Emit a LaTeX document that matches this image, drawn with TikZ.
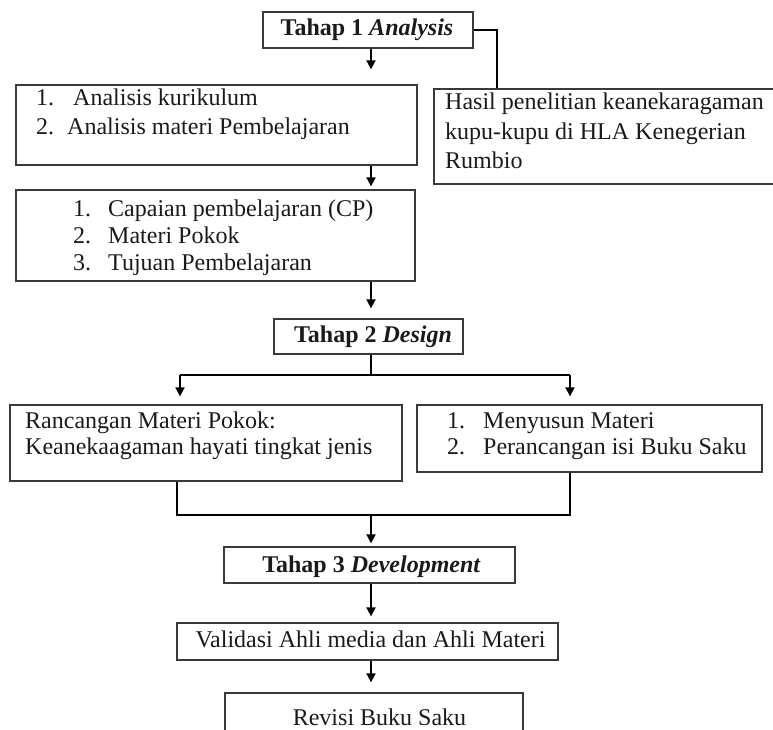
\documentclass[tikz,border=0pt]{standalone}
\usepackage{fontspec}
\setmainfont{Liberation Serif}
\usetikzlibrary{arrows.meta}
\definecolor{boxgray}{HTML}{3A3A3A}
\definecolor{txtcol}{HTML}{1A1A1A}
\begin{document}
\begin{tikzpicture}[x=1pt,y=-1pt,
  box/.style={draw=boxgray, line width=1.3pt, inner sep=0pt},
  lbl/.style={inner sep=0pt, text=txtcol, font=\fontsize{24}{28}\selectfont, anchor=base west},
  clbl/.style={inner sep=0pt, text=txtcol, font=\fontsize{24}{28}\selectfont, anchor=base},
  conn/.style={line width=1.8pt, draw=black},
  arr/.style={conn, -{Triangle[width=9pt,length=9pt]}}]
\useasboundingbox (0,0) rectangle (773,730);
% boxes
\node[box, minimum width=210pt, minimum height=36pt] (t1) at (368,30) {};
\node[box, minimum width=401pt, minimum height=80pt] (a1) at (216.5,125) {};
\node[box, minimum width=346pt, minimum height=95pt] (hasil) at (607,136.5) {};
\node[box, minimum width=399pt, minimum height=91pt] (a2) at (215.5,235.5) {};
\node[box, minimum width=189pt, minimum height=35pt] (t2) at (368.5,336.5) {};
\node[box, minimum width=392pt, minimum height=76pt] (dL) at (206,443) {};
\node[box, minimum width=345pt, minimum height=67pt] (dR) at (589.5,438.5) {};
\node[box, minimum width=291pt, minimum height=36pt] (t3) at (369.5,565) {};
\node[box, minimum width=381pt, minimum height=37pt] (val) at (367.5,641.5) {};
\node[box, minimum width=298pt, minimum height=52pt] (rev) at (374,719) {};
% texts
\node[clbl] (t1txt) at (367,36) {\textbf{Tahap 1 \textit{Analysis}}};
\node[lbl] (a1n1) at (36,106) {1.};
\node[lbl] (a1t1) at (73,106) {Analisis kurikulum};
\node[lbl] (a1n2) at (36,135) {2.};
\node[lbl] (a1t2) at (67,135) {Analisis materi Pembelajaran};
\node[lbl] (h1) at (445,110) {Hasil penelitian keanekaragaman};
\node[lbl] (h2) at (445,140) {kupu-kupu di HLA Kenegerian};
\node[lbl] (h3) at (445,168) {Rumbio};
\node[lbl] (a2n1) at (73,216) {1.};
\node[lbl] (a2t1) at (108,216) {Capaian pembelajaran (CP)};
\node[lbl] (a2n2) at (73,243) {2.};
\node[lbl] (a2t2) at (108,243) {Materi Pokok};
\node[lbl] (a2n3) at (73,270) {3.};
\node[lbl] (a2t3) at (108,270) {Tujuan Pembelajaran};
\node[clbl] (t2txt) at (373,342) {\textbf{Tahap 2 \textit{Design}}};
\node[lbl] (dL1) at (25,428) {Rancangan Materi Pokok:};
\node[lbl] (dL2) at (25,454) {Keanekaagaman hayati tingkat jenis};
\node[lbl] (dRn1) at (447,428) {1.};
\node[lbl] (dRt1) at (483,428) {Menyusun Materi};
\node[lbl] (dRn2) at (447,454) {2.};
\node[lbl] (dRt2) at (483,454) {Perancangan isi Buku Saku};
\node[clbl] (t3txt) at (371.5,572) {\textbf{Tahap 3 \textit{Development}}};
\node[clbl] (valtxt) at (370.5,647) {Validasi Ahli media dan Ahli Materi};
\node[clbl] (revtxt) at (379.5,725) {Revisi Buku Saku};
% connector coordinates
\coordinate (cx) at (371,0);
\coordinate (hx) at (497,0);
\coordinate (bl) at (180,375);
\coordinate (br) at (570,375);
\coordinate (ml) at (177,515);
\coordinate (mr) at (570,515);
% connectors
\draw[arr, shorten >=15pt] (t1.south -| cx) -- (a1.north -| cx);
\draw[conn] (t1.east) -| (hx |- hasil.north);
\draw[arr, shorten >=3pt] (a1.south -| cx) -- (a2.north -| cx);
\draw[arr, shorten >=10pt] (a2.south -| cx) -- (t2.north -| cx);
\draw[conn] (t2.south -| cx) -- (cx |- bl);
\draw[conn] (bl) -- (br);
\draw[arr, shorten >=8pt] (bl) -- (bl |- dL.north);
\draw[arr, shorten >=8pt] (br) -- (br |- dR.north);
\draw[conn] (dL.south -| ml) -- (ml) -- (mr) -- (dR.south -| mr);
\draw[arr, shorten >=3pt] (cx |- ml) -- (t3.north -| cx);
\draw[arr, shorten >=6pt] (t3.south -| cx) -- (val.north -| cx);
\draw[arr, shorten >=10pt] (val.south -| cx) -- (rev.north -| cx);
\end{tikzpicture}
\end{document}
